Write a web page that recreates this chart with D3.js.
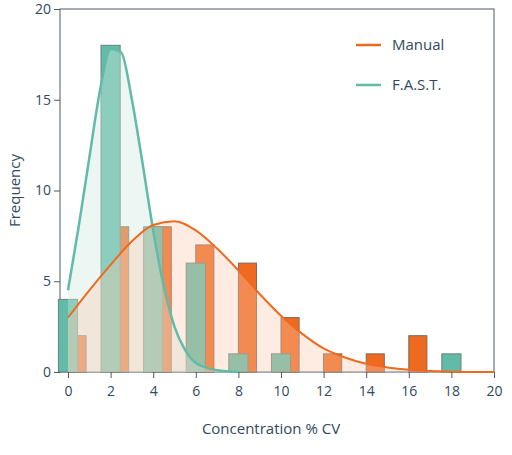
<!DOCTYPE html>
<html>
<head>
<meta charset="utf-8">
<script src="https://cdn.jsdelivr.net/npm/d3@7"></script>
<style>body{margin:0;background:#fff;font-family:"Open Sans",sans-serif;}</style>
</head>
<body>
<div id="graph"></div>
<script>
// data
const binStarts = [0, 2, 4, 6, 8, 10, 12, 14, 16, 18];
const manualCounts = [2, 8, 8, 7, 6, 3, 1, 1, 2, 0];
const fastCounts = [4, 18, 8, 6, 1, 1, 0, 0, 0, 1];
const manualCurveX = [0,1,2,3,4,5,6,7,8,9,10,11,12,13,14,15,16,17,18,19,20];
const manualCurveY = [3.0,4.5,5.9,7.2,8.1,8.3,7.8,6.8,5.6,4.3,3.1,2.1,1.3,0.8,0.45,0.25,0.12,0.05,0.02,0,0];
const fastCurveX = [0,0.5,1,1.5,2,2.5,3,3.5,4,4.5,5,5.5,6,7,8];
const fastCurveY = [4.5,8,11.8,15.5,17.8,17.6,15,11.5,7.8,4.7,2.5,1.2,0.5,0.1,0];
const xTicks = d3.range(0, 21, 2);
const yTicks = [0, 5, 10, 15, 20];

const margin = {top: 9, right: 18, bottom: 83, left: 68};
const width = 512 - margin.left - margin.right,
      height = 455 - margin.top - margin.bottom;

const svg = d3.select("#graph").append("svg")
    .attr("width", 512).attr("height", 455)
  .append("g")
    .attr("transform", `translate(${margin.left},${margin.top})`);

const x = d3.scaleLinear().domain([0, 20]).range([0, width]);
const y = d3.scaleLinear().domain([0, 20]).range([height, 0]);

const orange = "#ee6a1f", teal = "#62bba7";

// frame
svg.append("rect")
    .attr("x", -8).attr("y", 0)
    .attr("width", width + 8).attr("height", height)
    .attr("fill", "none").attr("stroke", "#4a5a66").attr("stroke-width", 1);

// manual bars (drawn first, teal overlaps them)
svg.selectAll(".mbar").data(binStarts.map((b, i) => ({b, v: manualCounts[i]})).filter(d => d.v > 0))
  .enter().append("rect")
    .attr("x", d => x(d.b))
    .attr("y", d => y(d.v))
    .attr("width", x(0.85) - x(0))
    .attr("height", d => y(0) - y(d.v))
    .attr("fill", orange).attr("stroke", "#7a6a60").attr("stroke-width", 1);

svg.selectAll(".fbar").data(binStarts.map((b, i) => ({b, v: fastCounts[i]})).filter(d => d.v > 0))
  .enter().append("rect")
    .attr("x", d => x(d.b - 0.45))
    .attr("y", d => y(d.v))
    .attr("width", x(0.9) - x(0))
    .attr("height", d => y(0) - y(d.v))
    .attr("fill", teal).attr("stroke", "#6f8077").attr("stroke-width", 1);

const fastPts = fastCurveX.map((v, i) => [v, fastCurveY[i]]);
const manPts = manualCurveX.map((v, i) => [v, manualCurveY[i]]);

const area = d3.area().x(d => x(d[0])).y0(y(0)).y1(d => y(d[1])).curve(d3.curveMonotoneX);
const line = d3.line().x(d => x(d[0])).y(d => y(d[1])).curve(d3.curveMonotoneX);

svg.append("path").datum(fastPts).attr("d", area)
    .attr("fill", "#cfe8e2").attr("opacity", 0.4);
svg.append("path").datum(manPts).attr("d", area)
    .attr("fill", "#fbc9ad").attr("opacity", 0.35);
svg.append("path").datum(fastPts).attr("d", line)
    .attr("fill", "none").attr("stroke", teal).attr("stroke-width", 2.5);
svg.append("path").datum(manPts).attr("d", line)
    .attr("fill", "none").attr("stroke", orange).attr("stroke-width", 2);

// axes
const xAxis = svg.append("g").attr("transform", `translate(0,${height})`)
    .call(d3.axisBottom(x).tickValues(xTicks).tickSize(6).tickSizeOuter(0));
const yAxis = svg.append("g").attr("transform", "translate(-8,0)")
    .call(d3.axisLeft(y).tickValues(yTicks).tickSize(6).tickSizeOuter(0));
[xAxis, yAxis].forEach(a => {
  a.select(".domain").remove();
  a.selectAll("line").attr("stroke", "#4a5a66");
  a.selectAll("text").attr("fill", "#2f4a5e").style("font-size", "14px").style("font-family", "Open Sans");
});
xAxis.selectAll("text").attr("dy", "1.1em");

svg.append("text")
    .attr("x", width / 2 - 10).attr("y", height + 62)
    .attr("text-anchor", "middle").attr("fill", "#2f4a5e")
    .style("font-size", "15px").text("Concentration % CV");
svg.append("text")
    .attr("transform", `translate(-48,${height / 2}) rotate(-90)`)
    .attr("text-anchor", "middle").attr("fill", "#2f4a5e")
    .style("font-size", "15px").text("Frequency");

// legend
const legend = [["Manual", orange], ["F.A.S.T.", teal]];
legend.forEach((l, i) => {
  const ly = 36 + i * 40;
  svg.append("line").attr("x1", 288).attr("x2", 313).attr("y1", ly).attr("y2", ly)
      .attr("stroke", l[1]).attr("stroke-width", 2.5);
  svg.append("text").attr("x", 324).attr("y", ly + 5).attr("fill", "#2f4a5e")
      .style("font-size", "15px").text(l[0]);
});
</script>
</body>
</html>
